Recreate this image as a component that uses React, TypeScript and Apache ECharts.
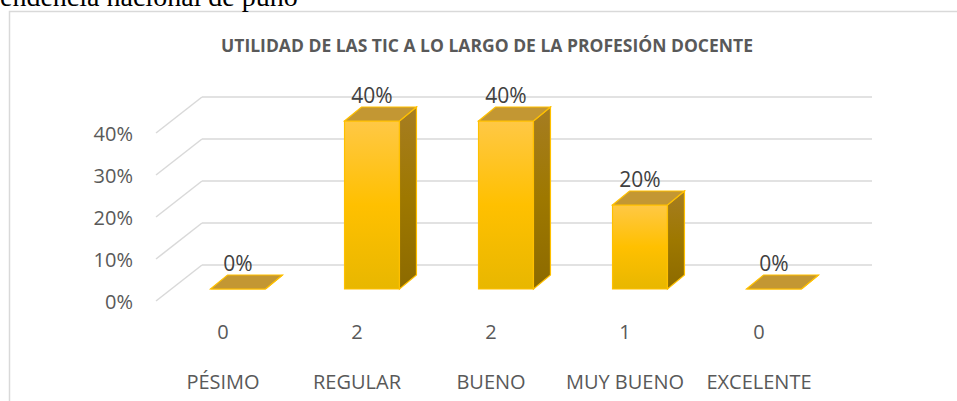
import React, { useEffect, useRef } from "react";
import * as echarts from "echarts";

const categories = ["PÉSIMO", "REGULAR", "BUENO", "MUY BUENO", "EXCELENTE"];
const counts = [0, 2, 2, 1, 0];
const percents = [0, 0.4, 0.4, 0.2, 0];
const yTicks = [0, 0.1, 0.2, 0.3, 0.4];
const titleText = "UTILIDAD DE LAS TIC A LO LARGO DE LA PROFESIÓN DOCENTE";
const pageText = "endencia nacional de puño";

const FONT = "'Open Sans', 'Noto Sans', sans-serif";
// 3D geometry (pixels)
const WALL_DX = 46;
const WALL_DY = -36;
const BAR_DX = 15;
const BAR_DY = -12;
const DEPTH_DX = 17;
const DEPTH_DY = -14;

export default function App() {
  const ref = useRef<HTMLDivElement>(null);

  useEffect(() => {
    if (!ref.current) return;
    const chart = echarts.init(ref.current, null, { renderer: "svg" });

    const barData = percents.map((p, i) => [i, p]);
    const tickData = yTicks.map((t) => [0, t]);

    const option: any = {
      animation: false,
      backgroundColor: "#ffffff",
      grid: { left: 156, right: 131, top: 91, bottom: 100, containLabel: false },
      xAxis: {
        type: "category",
        data: categories,
        axisLine: { show: false },
        axisTick: { show: false },
        splitLine: { show: false },
        axisLabel: {
          margin: 5,
          interval: 0,
          formatter: (value: string, index: number) => `{c|${counts[index]}}\n{n|${value}}`,
          rich: {
            c: { fontFamily: FONT, fontSize: 20, color: "#595959", lineHeight: 50 },
            n: { fontFamily: FONT, fontSize: 20, color: "#595959", lineHeight: 50 },
          },
        },
      },
      yAxis: {
        type: "value",
        min: 0,
        max: 0.5,
        interval: 0.1,
        show: false,
      },
      graphic: [
        {
          type: "rect",
          shape: { x: 9.5, y: 11.5, width: 1000, height: 500 },
          style: { fill: "none", stroke: "#D9D9D9", lineWidth: 1.5 },
          silent: true,
          z: -10,
        },
        {
          type: "text",
          x: 0,
          y: -4,
          style: {
            text: pageText,
            fontFamily: "'Liberation Serif', 'Times New Roman', serif",
            fontSize: 28,
            fill: "#000000",
            textAlign: "left",
            textVerticalAlign: "middle",
          },
        },
        {
          type: "text",
          x: 487,
          y: 45,
          style: {
            text: titleText,
            fontFamily: FONT,
            fontWeight: "bold",
            fontSize: 17.5,
            fill: "#595959",
            textAlign: "center",
            textVerticalAlign: "middle",
          },
        },
      ],
      series: [
        {
          type: "custom",
          name: "grid3d",
          silent: true,
          z: 1,
          data: tickData,
          renderItem: (params: any, api: any) => {
            const t = api.value(1);
            const p = api.coord([0, t]);
            const cs = params.coordSys;
            const xl = cs.x;
            const xr = cs.x + cs.width;
            const y = p[1];
            return {
              type: "group",
              children: [
                {
                  type: "line",
                  shape: { x1: xl, y1: y, x2: xl + WALL_DX, y2: y + WALL_DY },
                  style: { stroke: "#D9D9D9", lineWidth: 1.5 },
                },
                {
                  type: "line",
                  shape: { x1: xl + WALL_DX, y1: y + WALL_DY, x2: xr + WALL_DX, y2: y + WALL_DY },
                  style: { stroke: "#D9D9D9", lineWidth: 1.5 },
                },
                {
                  type: "text",
                  x: xl - 23,
                  y: y,
                  style: {
                    text: Math.round(t * 100) + "%",
                    fontFamily: FONT,
                    fontSize: 20,
                    fill: "#595959",
                    align: "right",
                    verticalAlign: "middle",
                    textAlign: "right",
                    textVerticalAlign: "middle",
                  },
                },
              ],
            };
          },
        },
        {
          type: "custom",
          name: "bars3d",
          z: 2,
          data: barData,
          renderItem: (params: any, api: any) => {
            const idx = api.value(0);
            const v = api.value(1);
            const base = api.coord([idx, 0]);
            const top = api.coord([idx, v]);
            const bw = api.size([1, 0])[0] * 0.41;
            const x0 = base[0] + BAR_DX - bw / 2;
            const x1 = x0 + bw;
            const yb = base[1] + BAR_DY;
            const yt = top[1] + BAR_DY;
            const stroke = "#FFC000";
            const front = new echarts.graphic.LinearGradient(0, 0, 0, 1, [
              { offset: 0, color: "#FFC845" },
              { offset: 0.5, color: "#FFC000" },
              { offset: 1, color: "#E8B700" },
            ]);
            const side = new echarts.graphic.LinearGradient(0, 0, 0, 1, [
              { offset: 0, color: "#A67D22" },
              { offset: 0.5, color: "#9E7800" },
              { offset: 1, color: "#8C6A00" },
            ]);
            return {
              type: "group",
              children: [
                {
                  type: "polygon",
                  shape: { points: [[x0, yt], [x1, yt], [x1, yb], [x0, yb]] },
                  style: { fill: front, stroke, lineWidth: 1.2 },
                },
                {
                  type: "polygon",
                  shape: {
                    points: [
                      [x1, yt],
                      [x1 + DEPTH_DX, yt + DEPTH_DY],
                      [x1 + DEPTH_DX, yb + DEPTH_DY],
                      [x1, yb],
                    ],
                  },
                  style: { fill: side, stroke, lineWidth: 1.2 },
                },
                {
                  type: "polygon",
                  shape: {
                    points: [
                      [x0, yt],
                      [x1, yt],
                      [x1 + DEPTH_DX, yt + DEPTH_DY],
                      [x0 + DEPTH_DX, yt + DEPTH_DY],
                    ],
                  },
                  style: { fill: "#C39733", stroke, lineWidth: 1.2 },
                },
                {
                  type: "text",
                  x: (x0 + x1) / 2,
                  y: yt + DEPTH_DY - 2,
                  style: {
                    text: Math.round(v * 100) + "%",
                    fontFamily: FONT,
                    fontSize: 21,
                    fill: "#404040",
                    align: "center",
                    verticalAlign: "bottom",
                    textAlign: "center",
                    textVerticalAlign: "bottom",
                  },
                },
              ],
            };
          },
        },
      ],
    };

    chart.setOption(option);
    return () => chart.dispose();
  }, []);

  return (
    <div
      ref={ref}
      style={{ position: "fixed", left: 0, top: 0, width: 957, height: 401, background: "#fff" }}
    />
  );
}
